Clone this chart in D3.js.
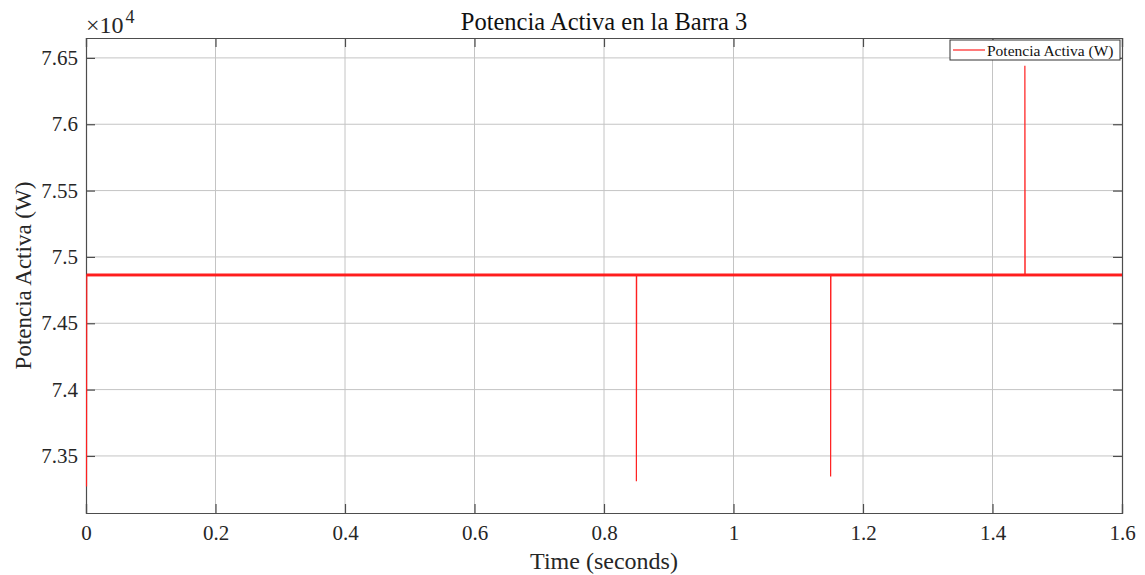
<!DOCTYPE html>
<html>
<head>
<meta charset="utf-8">
<script src="https://cdn.jsdelivr.net/npm/d3@7"></script>
<style>
  body { margin: 0; background: #fff; }
  svg { font-family: "Liberation Serif", "DejaVu Serif", serif; }
</style>
</head>
<body>
<svg id="chart" width="1145" height="575"></svg>
<script>
"use strict";

// values (time in s, power in W)
var timeData = [0.0008, 0.0012, 0.85, 0.85, 0.8504, 1.15, 1.15, 1.1504, 1.45, 1.45, 1.4504, 1.6];
var powerData = [73270, 74864, 74864, 73310, 74864, 74864, 73345, 74864, 74864, 76440, 74864, 74864];
// ripple envelope of the steady-state signal
var rippleLow = 74853;
var rippleHigh = 74875;
var xTicks = [0, 0.2, 0.4, 0.6, 0.8, 1, 1.2, 1.4, 1.6];
var yTicks = [73500, 74000, 74500, 75000, 75500, 76000, 76500];
var yDomain = [73070, 76650];
var seriesName = "Potencia Activa (W)";

var svg = d3.select("#chart");
var margin = { left: 86, right: 23, top: 38, bottom: 62 };
var width = 1145 - margin.left - margin.right;
var height = 575 - margin.top - margin.bottom;

var x = d3.scaleLinear().domain([0, 1.6]).range([0, width]);
var y = d3.scaleLinear().domain(yDomain).range([height, 0]);

var g = svg.append("g")
    .attr("transform", "translate(" + margin.left + "," + margin.top + ")");

// grid
g.append("g").selectAll("line").data(xTicks.slice(1, -1)).enter().append("line")
    .attr("x1", function (d) { return x(d); }).attr("x2", function (d) { return x(d); })
    .attr("y1", 0).attr("y2", height)
    .attr("stroke", "#c4c4c4").attr("stroke-width", 1);
g.append("g").selectAll("line").data(yTicks).enter().append("line")
    .attr("x1", 0).attr("x2", width)
    .attr("y1", function (d) { return y(d); }).attr("y2", function (d) { return y(d); })
    .attr("stroke", "#c4c4c4").attr("stroke-width", 1);

// axes box with inward ticks
var axisColor = "#4d4d4d";
var tickLen = 9;
var xAxisB = d3.axisBottom(x).tickValues(xTicks).tickSize(-tickLen).tickPadding(12)
    .tickFormat(function (d) { return d === 0 || d === 1 ? String(d) : d3.format(".1f")(d); });
var yAxisL = d3.axisLeft(y).tickValues(yTicks).tickSize(-tickLen).tickPadding(8)
    .tickFormat(function (d) { return d3.format(".2f")(d / 10000).replace(/0$/, ""); });

var gxb = g.append("g").attr("transform", "translate(0," + height + ")").call(xAxisB);
var gyl = g.append("g").call(yAxisL);
var gxt = g.append("g").call(d3.axisTop(x).tickValues(xTicks).tickSize(-tickLen).tickFormat(""));
var gyr = g.append("g").attr("transform", "translate(" + width + ",0)")
    .call(d3.axisRight(y).tickValues(yTicks).tickSize(-tickLen).tickFormat(""));

[gxb, gyl, gxt, gyr].forEach(function (a) {
    a.select(".domain").attr("stroke", axisColor).attr("stroke-width", 1.2);
    a.selectAll(".tick line").attr("stroke", axisColor).attr("stroke-width", 1.2);
    a.selectAll("text").attr("fill", "#262626")
        .style("font-family", "Liberation Serif").style("font-size", "21px");
});

// data
var pts = timeData.map(function (t, i) { return [t, powerData[i]]; });
g.append("rect")
    .attr("x", x(0.0012)).attr("width", x(1.6) - x(0.0012))
    .attr("y", y(rippleHigh)).attr("height", y(rippleLow) - y(rippleHigh))
    .attr("fill", "#ff1a1a");
var line = d3.line()
    .x(function (d) { return x(d[0]); })
    .y(function (d) { return y(d[1]); });
g.append("path").datum(pts)
    .attr("d", line)
    .attr("fill", "none")
    .attr("stroke", "#ff2020")
    .attr("stroke-width", 1.2);

// exponent
g.append("text").attr("x", 0).attr("y", -5)
    .attr("fill", "#262626").style("font-size", "24px")
    .text("\u00d710")
    .append("tspan").attr("dy", -10).attr("dx", 2).style("font-size", "18px").text("4");

// title and labels
svg.append("text").attr("x", 604).attr("y", 30).attr("text-anchor", "middle")
    .attr("fill", "#111").style("font-size", "24.5px").text("Potencia Activa en la Barra 3");
svg.append("text").attr("x", margin.left + width / 2).attr("y", 569).attr("text-anchor", "middle")
    .attr("fill", "#262626").style("font-size", "24px").text("Time (seconds)");
svg.append("text")
    .attr("transform", "translate(31," + (margin.top + height / 2) + ") rotate(-90)")
    .attr("text-anchor", "middle")
    .attr("fill", "#262626").style("font-size", "23px").text("Potencia Activa (W)");

// legend
var lg = svg.append("g").attr("transform", "translate(950,40)");
lg.append("rect").attr("width", 170).attr("height", 20)
    .attr("fill", "#fff").attr("stroke", "#333").attr("stroke-width", 1);
lg.append("line").attr("x1", 3).attr("x2", 35).attr("y1", 10).attr("y2", 10)
    .attr("stroke", "#ff2020").attr("stroke-width", 1.2);
lg.append("text").attr("x", 37).attr("y", 15.5)
    .attr("fill", "#111").style("font-size", "15.5px").text(seriesName);
</script>
</body>
</html>
